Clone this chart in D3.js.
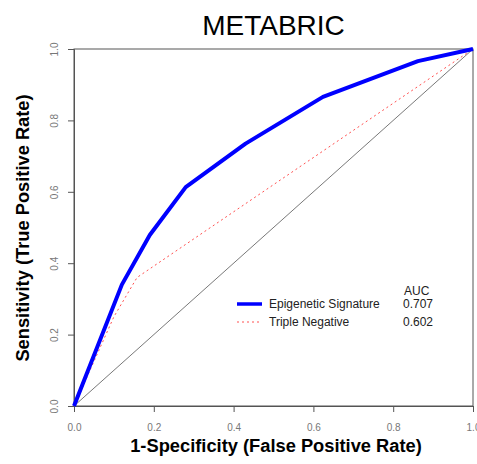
<!DOCTYPE html>
<html>
<head>
<meta charset="utf-8">
<script src="https://cdn.jsdelivr.net/npm/d3@7"></script>
<style>
  body { margin: 0; background: #fff; }
  svg text { font-family: "Liberation Sans", Arial, sans-serif; }
</style>
</head>
<body>
<div id="chart"></div>
<script>
// ROC points
var epiFpr = [0, 0.12, 0.19, 0.28, 0.43, 0.624, 0.862, 1];
var epiTpr = [0, 0.34, 0.479, 0.613, 0.735, 0.866, 0.966, 1];

var tnFpr = [0, 0.1, 0.158, 1];
var tnTpr = [0, 0.25, 0.36, 1];

var legendNames = ["Epigenetic Signature", "Triple Negative"];
var legendAuc = ["0.707", "0.602"];

var tickValues = [0, 0.2, 0.4, 0.6, 0.8, 1.0];

var width = 477, height = 464;
var margin = { top: 49, right: 4, bottom: 58, left: 74 };

var svg = d3.select("#chart")
  .append("svg")
  .attr("width", width)
  .attr("height", height);

var x = d3.scaleLinear().domain([0, 1]).range([margin.left, width - margin.right]);
var y = d3.scaleLinear().domain([0, 1]).range([height - margin.bottom, margin.top]);

// title
svg.append("text")
  .attr("x", (x(0) + x(1)) / 2)
  .attr("y", 35)
  .attr("text-anchor", "middle")
  .style("font-size", "28px")
  .text("METABRIC");

// axes
var xAxis = d3.axisBottom(x).tickValues(tickValues).tickFormat(d3.format(".1f")).tickSize(6).tickPadding(12);
var yAxis = d3.axisLeft(y).tickValues(tickValues).tickFormat(d3.format(".1f")).tickSize(6).tickPadding(8);

var gx = svg.append("g")
  .attr("transform", "translate(0," + y(0) + ")")
  .call(xAxis);
var gy = svg.append("g")
  .attr("transform", "translate(" + x(0) + ",0)")
  .call(yAxis);

[gx, gy].forEach(function(g) {
  g.select(".domain").attr("stroke", "#555");
  g.selectAll(".tick line").attr("stroke", "#555");
  g.selectAll(".tick text").attr("fill", "#777").style("font-size", "10px");
});

gy.selectAll(".tick text")
  .attr("text-anchor", "middle")
  .attr("transform", "translate(-20,0) rotate(-90)")
  .attr("x", 0)
  .attr("dy", "0.35em");

// box
svg.append("rect")
  .attr("x", x(0))
  .attr("y", y(1))
  .attr("width", x(1) - x(0))
  .attr("height", y(0) - y(1))
  .attr("fill", "none")
  .attr("stroke", "#555")
  .attr("stroke-width", 1);

// axis titles
svg.append("text")
  .attr("x", 276)
  .attr("y", 452)
  .attr("text-anchor", "middle")
  .style("font-size", "18.3px")
  .style("font-weight", "bold")
  .text("1-Specificity (False Positive Rate)");

svg.append("text")
  .attr("transform", "translate(29," + 228 + ") rotate(-90)")
  .attr("text-anchor", "middle")
  .style("font-size", "18.3px")
  .style("font-weight", "bold")
  .text("Sensitivity (True Positive Rate)");

// diagonal
svg.append("line")
  .attr("x1", x(0)).attr("y1", y(0))
  .attr("x2", x(1)).attr("y2", y(1))
  .attr("stroke", "#555")
  .attr("stroke-width", 0.8);

var line = d3.line()
  .x(function(d) { return x(d[0]); })
  .y(function(d) { return y(d[1]); });

var tnData = tnFpr.map(function(f, i) { return [f, tnTpr[i]]; });
var epiData = epiFpr.map(function(f, i) { return [f, epiTpr[i]]; });

svg.append("path")
  .datum(tnData)
  .attr("d", line)
  .attr("fill", "none")
  .attr("stroke", "#ff5050")
  .attr("stroke-width", 1)
  .attr("stroke-dasharray", "2,3");

svg.append("path")
  .datum(epiData)
  .attr("d", line)
  .attr("fill", "none")
  .attr("stroke", "#0000ff")
  .attr("stroke-width", 4)
  .attr("stroke-linejoin", "round");

// legend
var lg = svg.append("g").style("font-size", "12px").attr("fill", "#222");
lg.append("text").attr("x", 404).attr("y", 295).text("AUC");

var rowY = [304, 322];
var styles = [
  { stroke: "#0000ff", width: 3.5, dash: null },
  { stroke: "#ff5050", width: 1, dash: "2,3" }
];
legendNames.forEach(function(name, i) {
  lg.append("line")
    .attr("x1", 237).attr("x2", 262)
    .attr("y1", rowY[i]).attr("y2", rowY[i])
    .attr("stroke", styles[i].stroke)
    .attr("stroke-width", styles[i].width)
    .attr("stroke-dasharray", styles[i].dash);
  lg.append("text").attr("x", 269).attr("y", rowY[i] + 4).text(name);
  lg.append("text").attr("x", 403).attr("y", rowY[i] + 4).text(legendAuc[i]);
});
</script>
</body>
</html>
